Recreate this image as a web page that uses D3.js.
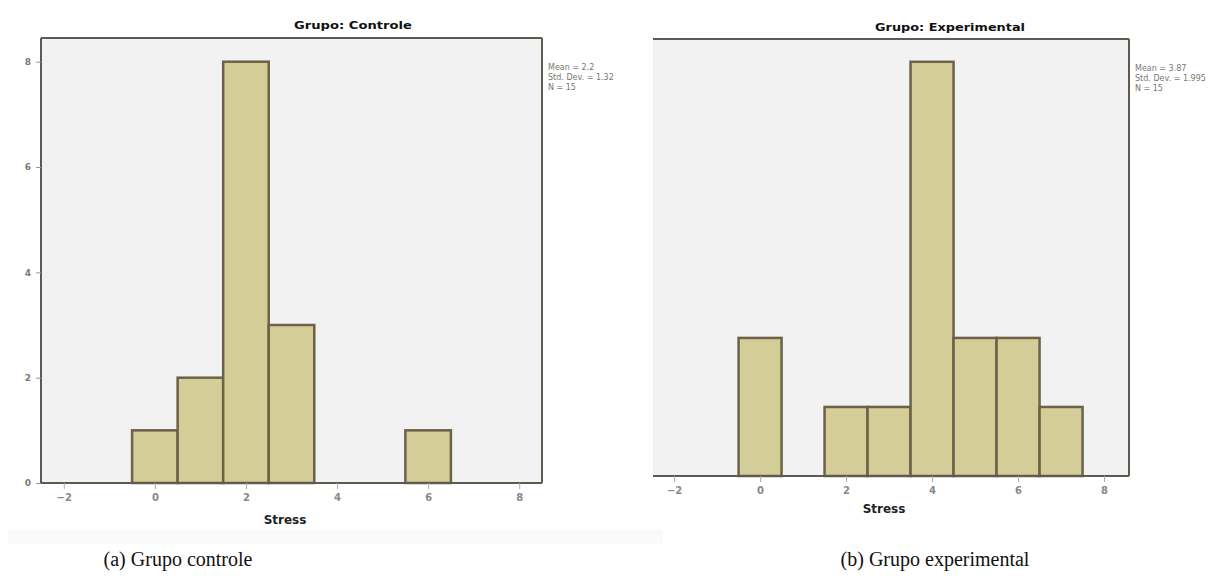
<!DOCTYPE html>
<html>
<head>
<meta charset="utf-8">
<script src="https://cdn.jsdelivr.net/npm/d3@7"></script>
<style>
  body { margin: 0; background: #fff; }
  svg { display: block; }
</style>
</head>
<body>
<div id="chart"></div>
<script>
// histogram data
var stressTicks = [-2, 0, 2, 4, 6, 8];
var countTicks = [0, 2, 4, 6, 8];

var controlStress = [0, 1, 2, 3, 6];
var controlCount = [1, 2, 8, 3, 1];
var controlStats = ['Mean = 2.2', 'Std. Dev. = 1.32', 'N = 15'];

var expStress = [0, 2, 3, 4, 5, 6, 7];
var expCount = [2, 1, 1, 6, 2, 2, 1];
var expStats = ['Mean = 3.87', 'Std. Dev. = 1.995', 'N = 15'];

var captions = ['(a) Grupo controle', '(b) Grupo experimental'];

var w = 1231, h = 582;
var barFill = '#d5cd97';
var barStroke = '#6b6249';
var frameColor = '#5e5a50';

var svg = d3.select('#chart').append('svg')
  .attr('width', w)
  .attr('height', h);

// faint band under the left figure
svg.append('rect')
  .attr('x', 8).attr('y', 530)
  .attr('width', 655).attr('height', 14)
  .attr('fill', '#fafafa');

function drawPanel(p) {
  var x = d3.scaleLinear().domain(p.xDomain).range([p.left, p.right]);
  var y = d3.scaleLinear().domain(p.yDomain).range([p.bottom, p.top]);
  var g = svg.append('g');

  g.append('rect')
    .attr('x', p.left).attr('y', p.top)
    .attr('width', p.right - p.left).attr('height', p.bottom - p.top)
    .attr('fill', '#f2f2f2');

  // bars, width 1 centred on each value
  g.selectAll('rect.bar')
    .data(p.values.map(function(v, i) { return { v: v, n: p.counts[i] }; }))
    .enter().append('rect')
    .attr('class', 'bar')
    .attr('x', function(d) { return x(d.v - 0.5); })
    .attr('y', function(d) { return y(d.n); })
    .attr('width', function(d) { return x(d.v + 0.5) - x(d.v - 0.5); })
    .attr('height', function(d) { return y(0) - y(d.n); })
    .attr('fill', barFill)
    .attr('stroke', barStroke)
    .attr('stroke-width', 2.5);

  // frame
  var frame = [
    [p.left, p.top, p.right, p.top],
    [p.right, p.top, p.right, p.bottom],
    [p.left, p.bottom, p.right, p.bottom]
  ];
  if (p.leftAxis) frame.push([p.left, p.top, p.left, p.bottom]);
  g.selectAll('line.frame')
    .data(frame)
    .enter().append('line')
    .attr('x1', function(d) { return d[0]; })
    .attr('y1', function(d) { return d[1]; })
    .attr('x2', function(d) { return d[2]; })
    .attr('y2', function(d) { return d[3]; })
    .attr('stroke', frameColor)
    .attr('stroke-width', 2);

  // x axis, faint ticks and labels
  var xAxis = g.append('g')
    .attr('transform', 'translate(0,' + p.bottom + ')')
    .call(d3.axisBottom(x).tickValues(stressTicks).tickSize(6).tickPadding(5));
  xAxis.select('.domain').remove();
  xAxis.selectAll('line').attr('stroke', '#aaa');
  xAxis.selectAll('text')
    .attr('fill', '#888')
    .attr('font-family', 'DejaVu Sans, sans-serif')
    .attr('font-size', 10)
    .attr('font-weight', 'bold');

  if (p.leftAxis) {
    var yAxis = g.append('g')
      .attr('transform', 'translate(' + p.left + ',0)')
      .call(d3.axisLeft(y).tickValues(countTicks).tickSize(5).tickPadding(5));
    yAxis.select('.domain').remove();
    yAxis.selectAll('line').attr('stroke', '#999');
    yAxis.selectAll('text')
      .attr('fill', '#777')
      .attr('font-family', 'DejaVu Sans, sans-serif')
      .attr('font-size', 9)
      .attr('font-weight', 'bold');
  }

  g.append('text')
    .attr('x', p.titleX).attr('y', p.titleY)
    .attr('font-family', 'DejaVu Sans, sans-serif')
    .attr('font-size', 11)
    .attr('font-weight', 'bold')
    .attr('fill', '#111')
    .attr('textLength', p.titleW)
    .attr('lengthAdjust', 'spacingAndGlyphs')
    .text(p.title);

  g.append('text')
    .attr('x', p.xLabelX).attr('y', p.xLabelY)
    .attr('text-anchor', 'middle')
    .attr('font-family', 'DejaVu Sans, sans-serif')
    .attr('font-size', 12)
    .attr('font-weight', 'bold')
    .attr('fill', '#222')
    .text('Stress');

  g.selectAll('text.stat')
    .data(p.stats)
    .enter().append('text')
    .attr('class', 'stat')
    .attr('x', p.right + 6)
    .attr('y', function(d, i) { return p.top + 32 + i * 10; })
    .attr('font-family', 'DejaVu Sans, sans-serif')
    .attr('font-size', 8)
    .attr('fill', '#777')
    .text(function(d) { return d; });

  svg.append('text')
    .attr('x', p.captionX).attr('y', 566)
    .attr('text-anchor', 'middle')
    .attr('font-family', 'Liberation Serif, Times New Roman, serif')
    .attr('font-size', 20)
    .attr('fill', '#111')
    .text(p.caption);
}

drawPanel({
  left: 41, right: 542, top: 38, bottom: 483,
  xDomain: [-2.5, 8.5], yDomain: [0, 8.45],
  values: controlStress, counts: controlCount, stats: controlStats,
  leftAxis: true,
  title: 'Grupo: Controle', titleX: 294, titleY: 29, titleW: 118,
  xLabelX: 285, xLabelY: 524,
  caption: captions[0], captionX: 178
});

drawPanel({
  left: 653, right: 1129, top: 39, bottom: 476,
  xDomain: [-2.49, 8.58], yDomain: [0, 6.33],
  values: expStress, counts: expCount, stats: expStats,
  leftAxis: false,
  title: 'Grupo: Experimental', titleX: 875, titleY: 31, titleW: 150,
  xLabelX: 884, xLabelY: 513,
  caption: captions[1], captionX: 935
});
</script>
</body>
</html>
